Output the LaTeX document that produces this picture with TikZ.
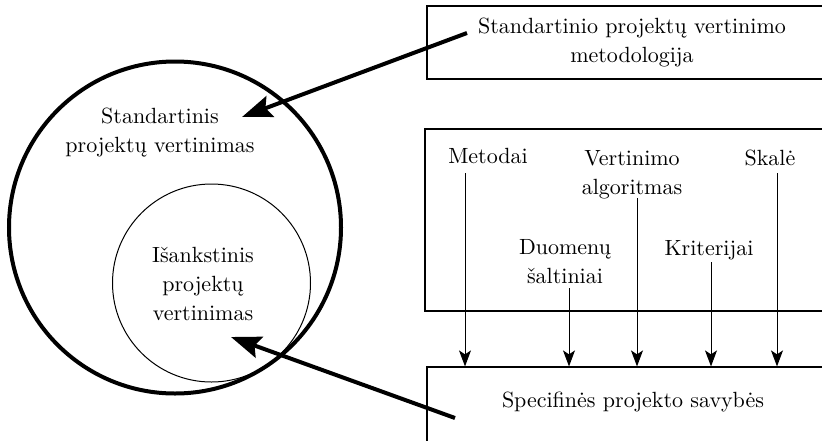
\documentclass[tikz,border=0pt]{standalone}
\usepackage{fontspec}
\setmainfont{lmroman10-regular.otf}
\usetikzlibrary{arrows.meta}
\usetikzlibrary{positioning}
\tikzset{box/.style = {draw, line width=1.2pt, inner sep=0pt},
         txt/.style = {align=center, inner sep=0pt,
                       font=\fontsize{22}{29}\selectfont},
         flow/.style = {-{Stealth[length=16pt, width=12pt, inset=4pt]},
                        line width=1pt},
         bigarrow/.style = {-{Stealth[length=30pt, width=22pt, inset=5pt]},
                            line width=4pt}}

\begin{document}
\begin{tikzpicture}[x=1pt, y=-1pt]
    \useasboundingbox (0, 0) rectangle (822, 440);
    \node (outer) [circle, draw, line width=4pt, minimum size=332pt] at (175, 227.5) {};
    \node (inner) [circle, draw, line width=1pt, minimum size=198pt] at (211.5, 283) {};
    \node (std) [txt] at (160, 133) {Standartinis\\projektų vertinimas};
    \node (isank) [txt] at (203, 284) {Išankstinis\\projektų\\vertinimas};
    \node (title) [box, txt, minimum width=410pt, minimum height=73pt] at (632, 42.5)
        {Standartinio projektų vertinimo\\metodologija};
    \node (parts) [box, minimum width=414pt, minimum height=182pt] at (632, 220) {};
    \node (spec) [box, minimum width=410pt, minimum height=80pt] at (632, 407) {};
    \node (spectxt) [txt, anchor=base] at (633, 407) {Specifinės projekto savybės};
    \node (metodai) [txt, anchor=base] at (488, 163) {Metodai};
    \node (skale) [txt, anchor=base] at (770, 165) {Skalė};
    \node (kriter) [txt, anchor=base] at (709, 255) {Kriterijai};
    \node (algor) [txt] at (632, 175) {Vertinimo\\algoritmas};
    \node (duomen) [txt] at (565, 262) {Duomenų\\šaltiniai};
    \coordinate (m) at (465, 173);
    \coordinate (d) at (569, 288);
    \coordinate (v) at (637, 198);
    \coordinate (k) at (711, 262);
    \coordinate (s) at (777, 173);
    \foreach \c in {m, d, v, k, s}
        \draw [flow] (\c) -- (\c |- spec.north);
    \coordinate (fromtitle) at (467, 33);
    \coordinate (tostd) at (242, 117);
    \coordinate (fromspec) at (455, 418);
    \coordinate (toisank) at (231, 337);
    \draw [bigarrow] (fromtitle) -- (tostd);
    \draw [bigarrow] (fromspec) -- (toisank);
\end{tikzpicture}
\end{document}
